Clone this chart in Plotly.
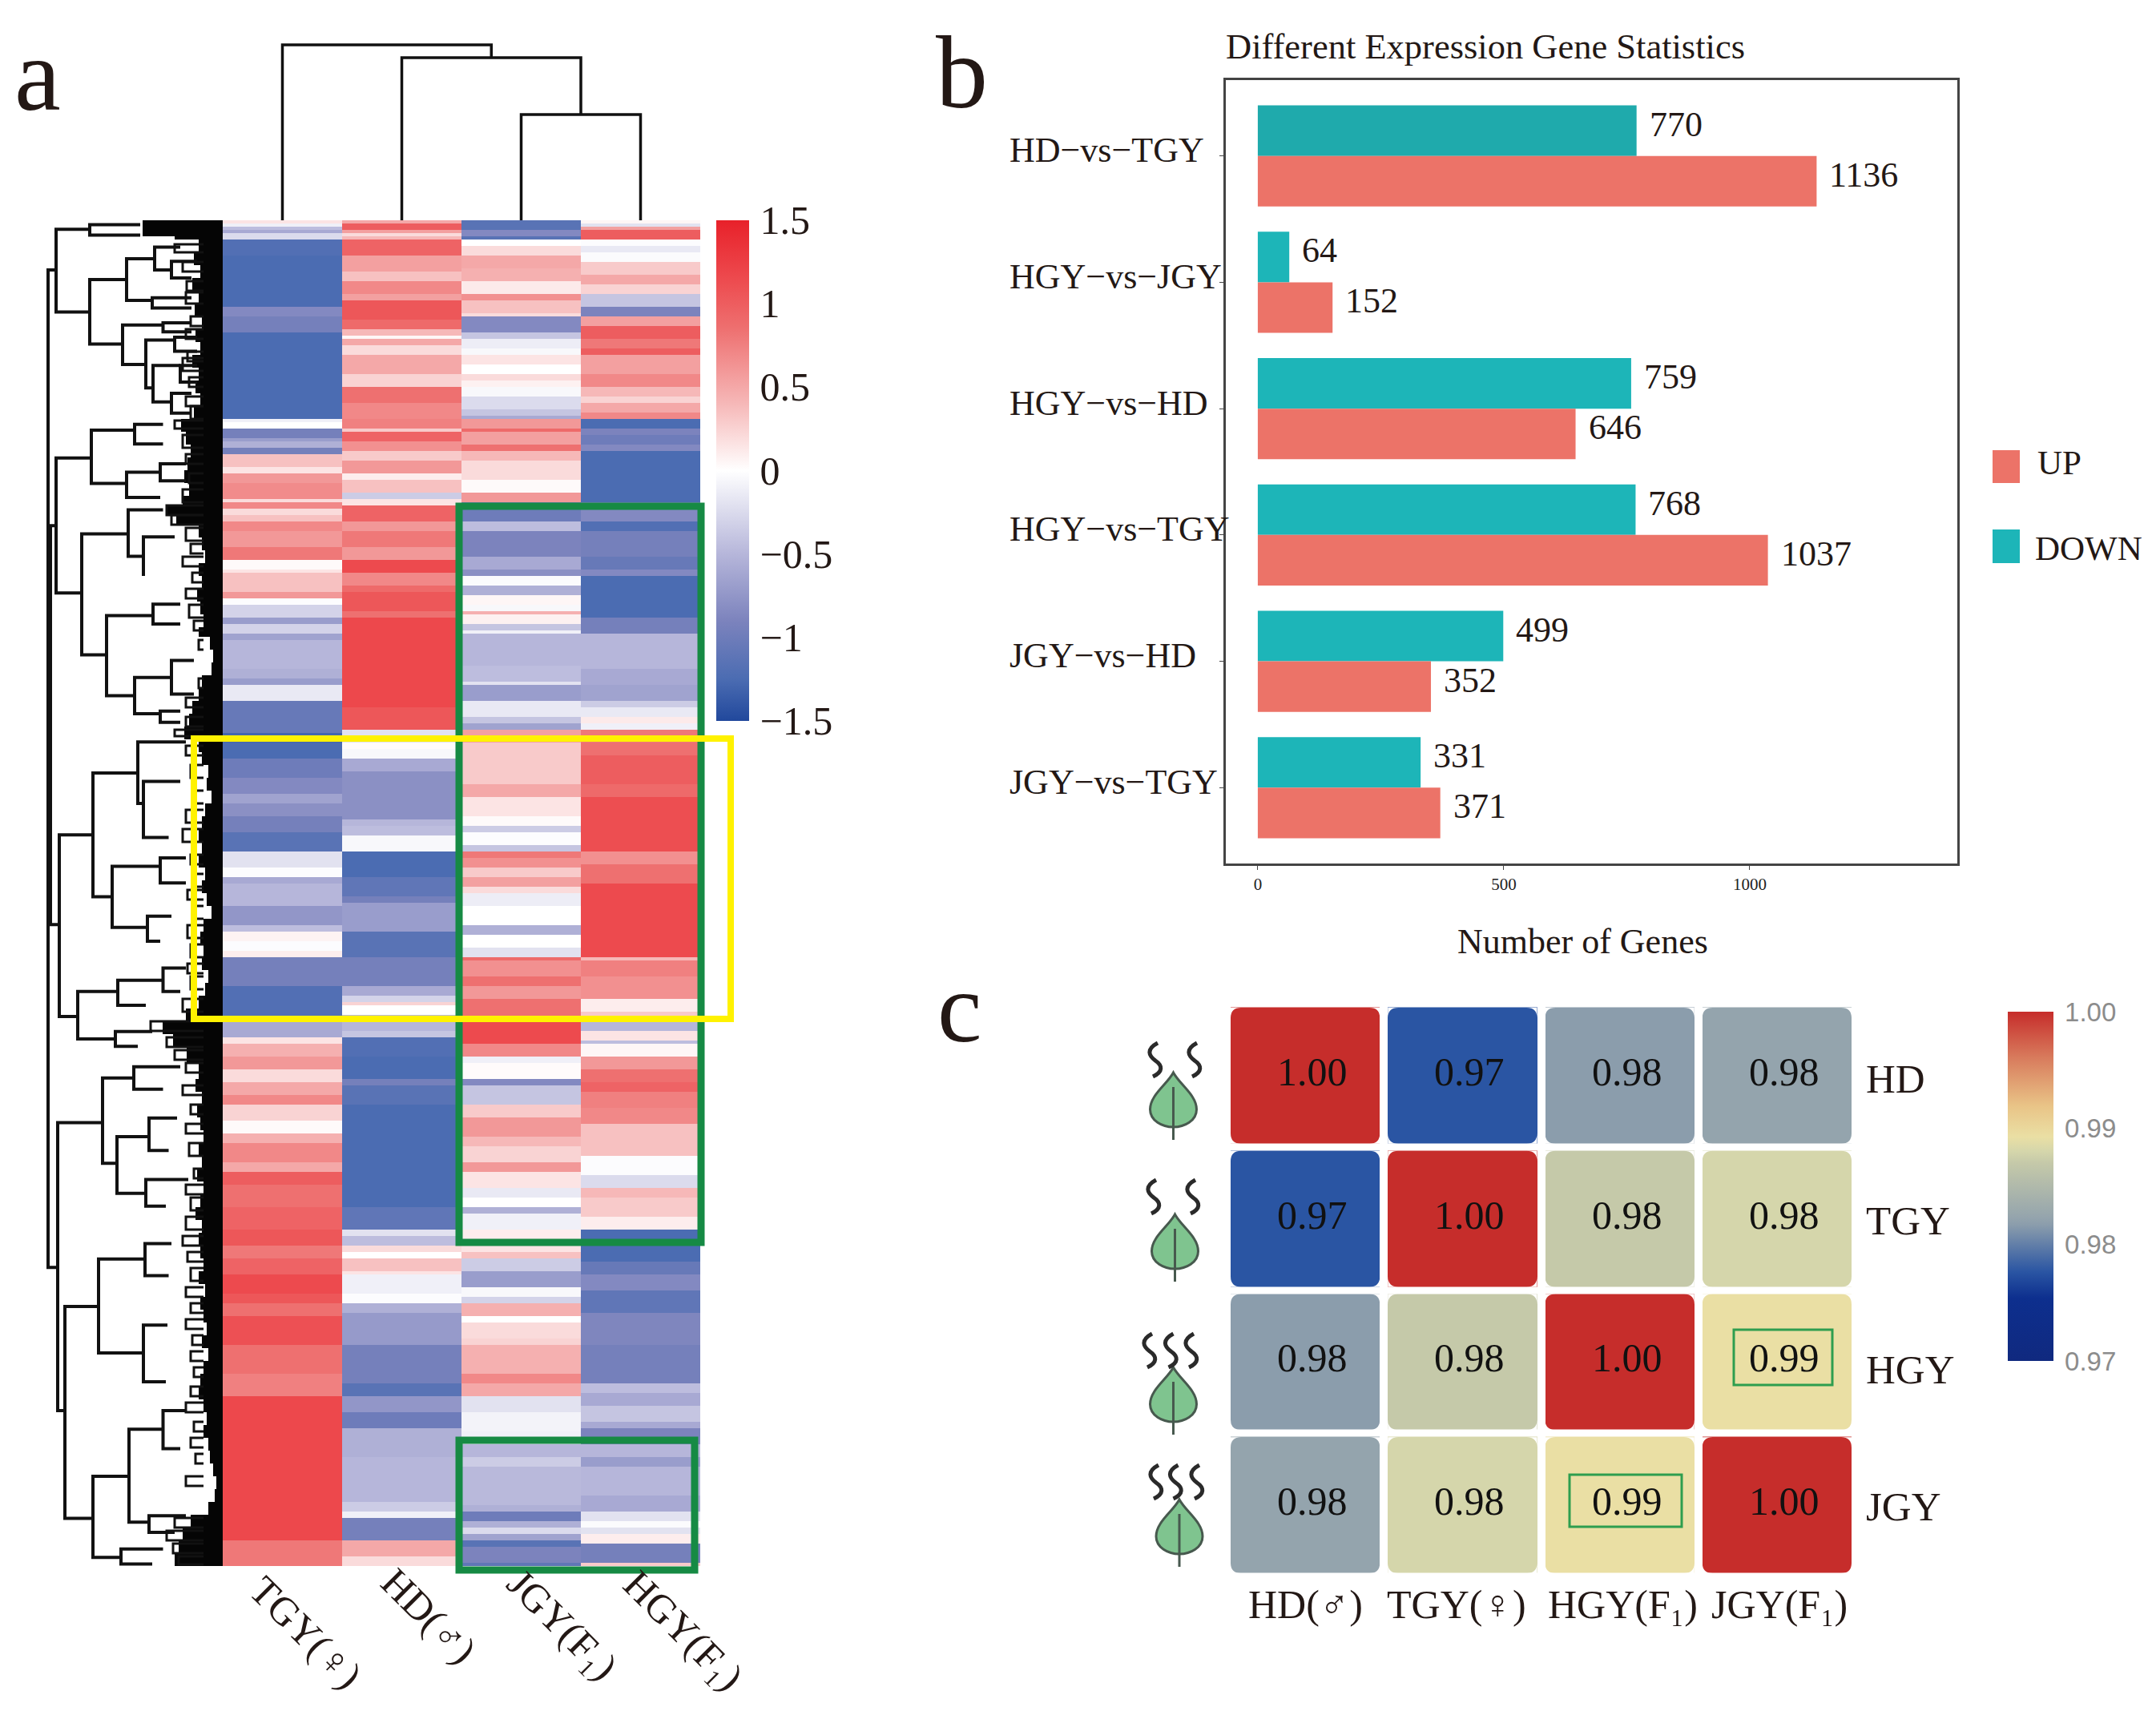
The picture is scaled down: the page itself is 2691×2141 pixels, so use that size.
import numpy as np
import plotly.graph_objects as go

W, H = 2691, 2141
SERIF = "Liberation Serif"

# ---------- panel a: expression heatmap (runs of end_row, z-score) ----------
SAMPLES_A = ["TGY(♀)", "HD(♂)", "JGY(F₁)", "HGY(F₁)"]
N_ROWS = 420
TGY_RUNS = [(1,.15),(2,-.1),(3,-.45),(4,-.6),(6,-.25),(11,-1.2),(27,-1.25),(30,-.85),(35,-.95),(62,-1.25),(63,-.1),(65,0),(68,-.95),(69,-.7),(71,-.55),(73,-.95),
 (77,.35),(79,.15),(82,.6),(87,.68),(88,.2),(90,.7),(92,.2),(94,.35),(97,.7),(102,.6),(106,.8),(109,.03),(110,.15),(116,.35),(118,.6),(120,-.02),(124,-.3),(126,-.7),(129,-.3),(131,-.65),
 (140,-.5),(143,-.55),(145,-.7),(150,-.15),(160,-1.05),(163,-1.3),(168,-1.25),(174,-1.0),(179,-.85),(182,-.65),(186,-.8),(191,-.95),(197,-1.15),(202,-.2),(205,-.02),(207,-.6),(214,-.5),
 (220,-.75),(222,-.45),(225,.07),(228,-.02),(230,.1),(239,-.95),(248,-1.2),(250,-1.2),(255,-.6),(257,.15),(261,.45),(265,.6),(269,.2),(273,.5),(276,.7),(281,.25),(285,.03),(288,.45),
 (294,.7),(297,.5),(301,1.0),(308,.85),(315,.95),(320,1.05),(324,.8),(329,.95),(335,1.15),(338,1.05),(342,.85),(351,1.1),(360,.85),(367,.75),(412,1.17),(420,.8)]
HD_RUNS = [(1,.5),(3,1.0),(4,.55),(5,.2),(6,.4),(11,.95),(16,.55),(19,.35),(23,.7),(25,.55),(31,1.05),(34,.9),(36,.4),(37,.05),(39,.5),(42,.2),(48,.5),(52,.25),(57,.85),(62,.7),(65,.75),(66,.3),
 (69,.95),(72,.65),(75,.3),(79,.6),(81,.1),(85,.35),(87,-.35),(89,.15),(94,.95),(97,.6),(102,.8),(106,.6),(110,1.15),(114,.7),(116,.9),(122,1.05),(124,.85),(152,1.17),(159,1.05),(163,-.2),
 (165,.02),(168,-.05),(172,-.6),(187,-.8),(189,-.5),(192,-.45),(197,-.05),(205,-1.25),(211,-1.1),(213,-.95),(222,-.7),(230,-1.15),(239,-.95),(242,-.6),(244,-.3),(245,.25),(248,0),(253,-.5),
 (255,-.4),(261,-1.2),(268,-1.25),(270,-.95),(276,-1.15),(308,-1.25),(315,-1.1),(317,-.2),(320,-.45),(322,.2),(324,0),(328,.35),(329,.15),(335,-.1),(338,-.02),(341,-.55),(351,-.72),(363,-.95),
 (367,-1.15),(372,-.75),(377,-1.0),(386,-.55),(400,-.5),(403,-.35),(405,-.1),(412,-.95),(417,.5),(420,.2)]
JGY_RUNS = [(3,-1.15),(5,-.85),(6,-1.15),(8,0),(11,.2),(15,.5),(19,.45),(23,.12),(25,.65),(29,.35),(30,.2),(35,-.85),(37,-.4),(40,-.12),(42,-.05),(45,.15),(48,0),(50,.2),(52,.08),(55,-.05),(59,-.25),
 (61,-.4),(62,-.6),(65,.6),(66,.9),(70,.55),(72,.85),(75,.4),(81,.2),(85,.03),(88,.6),(94,-1.0),(97,-.45),(105,-.9),(109,-.6),(111,-.8),(114,-.03),(117,-.55),(120,.05),(122,-.05),(123,.45),
 (126,.08),(128,-.4),(129,-.1),(139,-.5),(144,-.45),(145,-.2),(150,-.7),(155,-.15),(157,-.4),(159,-.65),(163,.55),(176,.3),(180,.5),(186,.15),(189,.03),(191,-.35),(195,-.02),(197,-.4),(199,.8),
 (202,.65),(205,.3),(208,.55),(210,.2),(214,-.12),(220,0),(223,-.55),(227,0),(230,-.2),(231,.9),(236,.65),(239,.85),(243,.6),(250,.85),(257,1.15),(261,.7),(263,-.1),(268,.02),(270,-.85),(276,-.4),
 (280,.3),(286,.6),(289,.4),(294,.25),(297,.6),(302,.15),(305,-.15),(308,0),(310,-.55),(315,-.1),(318,.1),(322,.15),(324,.35),(328,-.35),(333,-.7),(336,-.05),(338,-.3),(342,.45),(344,0),(349,.2),
 (351,.25),(360,.45),(363,.7),(367,.5),(372,-.2),(378,-.08),(382,-.1),(386,-.5),(389,-.35),(401,-.48),(403,-.55),(406,-1.0),(408,-.55),(410,-.25),(412,-.65),(414,-1.15),(419,-.9),(420,-1.1)]
HGY_RUNS = [(1,.05),(2,-.2),(3,.55),(6,1.0),(8,-.02),(10,-.15),(13,-.03),(17,.3),(20,.5),(23,.25),(27,-.4),(30,-.9),(33,.55),(37,1.0),(40,.8),(42,1.0),(48,.55),(52,.7),(55,.4),(57,.25),(60,.5),
 (62,.7),(65,-1.25),(67,-.9),(70,-1.0),(72,-.85),(88,-1.25),(94,-.85),(97,-1.2),(105,-.95),(109,-1.05),(111,-.85),(124,-1.25),(129,-.95),(140,-.5),(145,-.6),(150,-.65),(152,-.35),(155,-.15),
 (157,.12),(159,-.1),(163,.8),(167,.85),(176,1.0),(180,.9),(197,1.12),(201,.65),(207,.85),(230,1.15),(231,.4),(236,.75),(243,.65),(247,.1),(250,.3),(253,-.5),(256,.15),(257,-.45),(261,.05),
 (265,.6),(269,.85),(272,.95),(277,.75),(282,.7),(288,.35),(292,.35),(298,-.02),(302,-.25),(305,.4),(311,.3),(315,.1),(325,-1.25),(329,-1.05),(334,-.85),(341,-1.1),(351,-.88),(363,-.95),(366,-.45),
 (370,-.6),(375,-.4),(377,-.6),(382,-.9),(386,-.5),(389,-.7),(398,-.5),(403,-.6),(406,-.2),(408,-.03),(410,-.2),(413,.1),(419,-.95),(420,.3)]

# merges of the left dendrogram: height, top row, bottom row, top child height, bottom child height
ROW_MERGES = [(218,15.5,326.8,208,206),(218,157.5,157.5,215,215),(215,95.3,219.8,208,204),
 (208,2.8,28.6,166,166),(166,1.4,4.6,103,103),(166,18.5,38.6,120,125),(120,12,25,85,88),(85,8.4,15.5,53,64),(64,12.8,18,32,39),(88,24.2,27.4,39,39),
 (125,32.7,45,74.5,96),(74.5,32,34.8,39,39),(96,37.4,52.3,60,87),(60,36.5,40.9,32,32),(87,45.3,56.7,53,64),(53,45.3,50.5,32,32),(64,54,60.2,39,39),
 (208,74.2,116.3,164,176),(164,65.5,82.1,110,120),(110,63.7,69.8,74.5,74.5),(120,78.6,86.5,78,78),(78,76,81.3,46,46),(176,97.9,135.6,118,145),(118,90.4,104.9,74.5,99),
 (99,98.8,111,60,99),(145,123.4,148.4,87,110),(87,119.8,126,53,53),(110,142.7,154,64,78),(64,137.4,147.9,36,36),(78,153.2,156.7,53,53),
 (204,191.8,248.5,162,181),(162,172.5,211.1,106,138),(106,162.8,182,46,99),(99,175.1,192.6,53,67.5),(138,201.6,220.7,78,94),(78,199,206.8,46,46),(94,217.2,225,64,78),
 (181,240.7,255.5,131,134),(131,237.2,245,74.5,96),(74.5,233.4,240.7,46,53),(134,253.2,257.8,88,106),
 (206,281.6,371.5,150,197),(150,267.7,294.3,111,132),(111,264.2,271.2,53,74.5),(132,286,303.7,92,96),(92,280.2,290.3,57,67.5),(96,299.4,307.7,43,71),
 (197,339,405.1,155,162),(155,324.2,353.5,97,99),(97,319.4,329.4,64,67.5),(99,344.8,362.5,69,71),(162,392,417.3,117,127),(117,377.3,406.3,74.5,92),(74.5,371.5,383.4,46,53),(92,404.3,409.5,46,60),(127,414.7,419.4,74.5,88)]
# small merges close to the leaves: height, top row, bottom row
FINE_MERGES = [(60,7.5,10),(50,13,16),(45,19,22),(46,22.5,26),(40,30,33),(46,34,37),(44,41,44),(50,43,47),(42,49,52),(46,55,58),(40,58,62),
 (60,62.5,65),(50,67,71),(46,73,76),(42,79,82),(50,84,88),(70,89,92),(64,92,95),(46,96,100),(40,101,104),(50,105,108),(38,110,113),(46,115,118),(42,120,124),(36,125,128),
 (30,131,134),(30,143,146),(46,149,152),(46,155,158),(60,159,161),(46,164,167),(40,170,174),(34,178,182),(46,184,188),(50,190,194),(40,198,201),(36,204,208),(44,209,212),
 (36,214,218),(44,220,224),(40,226,230),(44,232,235),(40,236,240),(50,243,247),(90,250,253),(70,255,258),(60,259,262),(46,263,266),(50,270,273),(40,276,279),(46,282,285),
 (42,288,292),(36,296,299),(46,301,304),(40,305,309),(46,311,315),(50,317,320),(44,322,325),(40,327,331),(46,333,336),(40,338,341),(46,343,346),(38,348,351),(40,353,356),
 (36,358,361),(40,364,367),(46,369,372),(36,375,378),(40,380,383),(34,385,388),(46,392,395),(60,405,408),(70,409,412),(62,413,416),(55,417,419.5)]
# depth of the dense leaf fringe: end row, height
LEAF_RUNS = [(5,100),(6,60),(10,30),(14,36),(18,28),(22,38),(26,30),(30,35),(34,26),(38,34),(42,28),(46,38),(50,30),(54,34),(58,28),(62,36),(66,52),(70,46),(74,40),(78,44),(82,48),(86,42),(89,50),(92,70),(95,58),
 (99,30),(103,26),(107,22),(111,30),(115,26),(119,32),(123,28),(127,24),(130,30),(134,16),(138,12),(142,14),(146,26),(150,30),(154,38),(158,42),(162,48),(166,30),(170,26),(174,18),(178,20),(182,14),(186,22),(190,26),
 (194,30),(198,26),(202,30),(206,22),(210,26),(214,20),(218,14),(222,24),(226,28),(230,24),(234,26),(238,18),(242,22),(246,30),(250,46),(254,75),(258,62),(263,45),(268,30),(272,34),(276,26),(280,32),(284,28),(288,24),
 (292,30),(296,26),(300,32),(304,24),(308,28),(312,34),(316,26),(320,30),(324,28),(328,24),(332,30),(336,22),(340,28),(344,24),(348,20),(352,26),(356,18),(360,24),(364,28),(368,30),(372,24),(376,20),(380,24),(384,18),
 (388,16),(392,12),(396,8),(400,10),(404,18),(408,40),(412,50),(416,55),(420,60)]
# merges of the top dendrogram: height, left position, right position, left child height, right child height
COL_MERGES = [(132,2,3,0,0),(203,1,2.5,0,132),(219,0,1.75,0,203)]

# ---------- panel b: DEG counts ----------
COMPARISONS = ["HD−vs−TGY", "HGY−vs−JGY", "HGY−vs−HD", "HGY−vs−TGY", "JGY−vs−HD", "JGY−vs−TGY"]
DOWN_GENES = [770, 64, 759, 768, 499, 331]
UP_GENES = [1136, 152, 646, 1037, 352, 371]

# ---------- panel c: correlation ----------
SAMPLES_C = ["HD", "TGY", "HGY", "JGY"]
COLS_C = ["HD(♂)", "TGY(♀)", "HGY(F₁)", "JGY(F₁)"]
CORR_COLOR = [[1.0, .97765, .9817, .9823], [.97765, 1.0, .987, .988], [.9817, .987, 1.0, .9893], [.9823, .988, .9893, 1.0]]
CORR_TEXT = [["1.00", "0.97", "0.98", "0.98"], ["0.97", "1.00", "0.98", "0.98"], ["0.98", "0.98", "1.00", "0.99"], ["0.98", "0.98", "0.99", "1.00"]]


def fx(px):
    return px / W


def fy(py):
    return 1 - py / H


def expand(runs):
    out, start = [], 0
    for end, val in runs:
        out.extend([val] * (end - start))
        start = end
    return out


SCALE_A = [[0, "#21489c"], [.0833, "#4b6cb2"], [.2, "#7c83bd"], [.3333, "#b6b6da"], [.5, "#ffffff"], [.6333, "#f6b8b8"], [.7833, "#ee7070"], [.8833, "#ed4a4e"], [1, "#e8212a"]]
SCALE_C = [[0, "#10297f"], [.18, "#0d2f8e"], [.255, "#2a55a3"], [.39, "#8b9dac"], [.41, "#94a4ad"], [.567, "#c5c9a9"], [.6, "#d5d6ab"], [.642, "#eadfa4"], [.73, "#e9c487"], [.87, "#d87a5c"], [1, "#c62d2b"]]

fig = go.Figure()

# heatmap a
z_a = np.array([expand(TGY_RUNS), expand(HD_RUNS), expand(JGY_RUNS), expand(HGY_RUNS)]).T
fig.add_trace(go.Heatmap(z=z_a, x=[0, 1, 2, 3], y=np.arange(N_ROWS) + .5, colorscale=SCALE_A, zmin=-1.5, zmax=1.5,
    hoverinfo="skip", xaxis="x", yaxis="y",
    colorbar=dict(x=fx(894), xanchor="left", xpad=0, ypad=0, y=fy(587), yanchor="middle", len=625 / H, lenmode="fraction",
                  thickness=41, outlinewidth=0, tickvals=[-1.5, -1, -.5, 0, .5, 1, 1.5],
                  ticktext=["−1.5", "−1", "−0.5", "0", "0.5", "1", "1.5"], ticks="outside", ticklen=4, tickcolor="rgba(0,0,0,0)",
                  tickfont=dict(family=SERIF, size=50, color="#231815"))))

# top dendrogram
for h, a, b, ha, hb in COL_MERGES:
    fig.add_trace(go.Scatter(x=[a, a, b, b], y=[ha, h, h, hb], mode="lines", line=dict(color="#111", width=3.5), xaxis="x2", yaxis="y2", hoverinfo="skip"))

# leaf fringe
ends = np.array([e for e, _ in LEAF_RUNS], float)
starts = np.r_[0, ends[:-1]]
fig.add_trace(go.Bar(x=[d for _, d in LEAF_RUNS], y=(ends + starts) / 2, width=ends - starts, orientation="h", marker=dict(color="#050505", line=dict(width=0)),
                     xaxis="x3", yaxis="y3", hoverinfo="skip"))
# left dendrogram
xs, ys = [], []
for h, rt, rb, ct, cb in ROW_MERGES:
    xs += [ct, h, h, cb, None]
    ys += [rt, rt, rb, rb, None]
fig.add_trace(go.Scatter(x=xs, y=ys, mode="lines", line=dict(color="#111", width=4), xaxis="x3", yaxis="y3", hoverinfo="skip"))
fxs, fys = [], []
for h, rt, rb in FINE_MERGES:
    fxs += [24, h, h, 24, None]
    fys += [rt, rt, rb, rb, None]
fig.add_trace(go.Scatter(x=fxs, y=fys, mode="lines", line=dict(color="#111", width=3), xaxis="x3", yaxis="y3", hoverinfo="skip"))

# bars
positions = list(range(len(COMPARISONS)))
fig.add_trace(go.Bar(y=positions, x=DOWN_GENES, name="DOWN", orientation="h", xaxis="x4", yaxis="y4", width=.4, offset=-.4,
                     marker=dict(color=["#1faaac"] + ["#1db5b8"] * 5, line=dict(width=0)), hoverinfo="skip"))
fig.add_trace(go.Bar(y=positions, x=UP_GENES, name="UP", orientation="h", xaxis="x4", yaxis="y4", width=.4, offset=0,
                     marker=dict(color="#ec7368", line=dict(width=0)), hoverinfo="skip"))

# correlation
fig.add_trace(go.Heatmap(z=CORR_COLOR,
    x=[0, 1, 2, 3], y=[0, 1, 2, 3], xgap=10, ygap=9, colorscale=SCALE_C, zmin=.97, zmax=1.0, hoverinfo="skip", xaxis="x5", yaxis="y5",
    colorbar=dict(x=fx(2506), xanchor="left", xpad=0, ypad=0, y=fy(1481), yanchor="middle", len=436 / H, lenmode="fraction", thickness=57, outlinewidth=0,
                  tickvals=[.97, .98, .99, 1.0], ticktext=["0.97", "0.98", "0.99", "1.00"], ticks="outside", ticklen=8, tickcolor="rgba(0,0,0,0)",
                  tickfont=dict(family="Liberation Sans", size=33, color="#8c8c8c"))))


def hidden(dom, rng):
    return dict(domain=dom, range=rng, visible=False, fixedrange=True)


layout = dict(width=W, height=H, margin=dict(l=0, r=0, t=0, b=0, pad=0), paper_bgcolor="white", plot_bgcolor="rgba(0,0,0,0)", showlegend=False, barmode="overlay", autosize=False)
layout["xaxis"] = hidden([fx(278), fx(874)], [-.5, 3.5])
layout["yaxis"] = hidden([fy(1955), fy(275)], [N_ROWS, 0])
layout["xaxis2"] = hidden([fx(278), fx(874)], [-.5, 3.5])
layout["yaxis2"] = hidden([fy(275), fy(50)], [0, 225])
layout["xaxis3"] = hidden([fx(0), fx(278)], [278, 0])
layout["yaxis3"] = hidden([fy(1955), fy(275)], [N_ROWS, 0])
layout["xaxis4"] = dict(domain=[fx(1530), fx(2443)], range=[-65, 1422], tickvals=[0, 500, 1000], ticks="outside", ticklen=5, tickcolor="#444",
                        tickfont=dict(family=SERIF, size=21, color="#222"), showgrid=False, zeroline=False, showline=True, mirror=True, linecolor="#444", linewidth=3,
                        anchor="y4", fixedrange=True)
layout["yaxis4"] = dict(domain=[fy(1078), fy(100)], range=[5.6, -.6], tickvals=positions, showticklabels=False, ticks="outside", ticklen=5, tickcolor="#444",
                        showgrid=False, zeroline=False, showline=True, mirror=True, linecolor="#444", linewidth=3, anchor="x4", fixedrange=True)
layout["xaxis5"] = dict(domain=[fx(1531), fx(2316)], range=[-.5, 3.5], showticklabels=False, ticks="", showgrid=False, zeroline=False, showline=False, anchor="y5", fixedrange=True)
layout["yaxis5"] = dict(domain=[fy(1968.5), fy(1253.5)], range=[3.5, -.5], showticklabels=False, ticks="", showgrid=False, zeroline=False, showline=False, anchor="x5", fixedrange=True)

ann = []


def text(px, py, s, size, anchor="center", angle=0, color="#231815"):
    ann.append(dict(x=fx(px), y=fy(py), xref="paper", yref="paper", text=s, showarrow=False, xanchor=anchor, yanchor="middle", textangle=angle,
                    font=dict(family=SERIF, size=size, color=color)))


text(47, 93, "a", 130)
text(1200, 90, "b", 130)
text(1197, 1258, "c", 125)
for name, cx, cy in zip(SAMPLES_A, [382, 535, 702, 853], [2038, 2017, 2028, 2035]):
    text(cx, cy, name, 50, angle=45)
text(1528, 58, "Different Expression Gene Statistics", 44.5, anchor="left")
text(1975, 1175, "Number of Genes", 44, color="#231815")
text(2541, 577, "UP", 43, anchor="left")
text(2538, 685, "DOWN", 43, anchor="left")
for i, name in enumerate(COMPARISONS):
    ann.append(dict(x=fx(1258), xref="paper", y=i, yref="y4", text=name, showarrow=False, xanchor="left", yanchor="middle", yshift=7,
                    font=dict(family=SERIF, size=44, color="#231815")))
    for val, off in ((DOWN_GENES[i], -.2), (UP_GENES[i], .2)):
        ann.append(dict(x=val, xref="x4", y=i + off, yref="y4", text=str(val), showarrow=False, xanchor="left", yanchor="middle", xshift=14, yshift=8,
                        font=dict(family=SERIF, size=44, color="#231815")))
for r, row in enumerate(CORR_TEXT):
    for c, label in enumerate(row):
        ann.append(dict(x=c, xref="x5", y=r, yref="y5", text=label, showarrow=False, xanchor="center", yanchor="middle", xshift=9, yshift=5,
                        font=dict(family=SERIF, size=50, color="#111")))
for name, cy in zip(SAMPLES_C, [1347, 1524, 1710, 1881]):
    text(2327, cy, name, 51, anchor="left")
for name, cx in zip(COLS_C, [1629, 1818, 2025, 2221]):
    text(cx, 2003, name, 50)
layout["annotations"] = ann

shapes = []


def box(x0, y0, x1, y1, color, w):
    shapes.append(dict(type="rect", xref="paper", yref="paper", x0=fx(x0), y0=fy(y0), x1=fx(x1), y1=fy(y1), line=dict(color=color, width=w), fillcolor="rgba(0,0,0,0)", layer="above"))


def swatch(x0, y0, x1, y1, color):
    shapes.append(dict(type="rect", xref="paper", yref="paper", x0=fx(x0), y0=fy(y0), x1=fx(x1), y1=fy(y1), line=dict(width=0), fillcolor=color, layer="above"))


box(573, 632, 875, 1551, "#168a44", 9)
box(573, 1798, 867, 1960, "#168a44", 9)
box(242, 922, 912, 1272, "#fff200", 8)
box(2164, 1660, 2287, 1729, "#2e9e4f", 3)
box(1959, 1841, 2099, 1906, "#2e9e4f", 3)
swatch(2487, 562, 2521, 603, "#ec7368")
swatch(2487, 661, 2521, 703, "#1db5b8")

# rounded tile corners for panel c
rx, ry = 13 / 196.25, 13 / 178.75
gx, gy = 5 / 196.25, 4.5 / 178.75
corner = ""
for i in range(4):
    for j in range(4):
        for sx in (-1, 1):
            for sy in (-1, 1):
                cx = i + sx * (.5 - gx)
                cy = j + sy * (.5 - gy)
                corner += f"M{cx},{cy} L{cx - sx * rx},{cy} Q{cx},{cy} {cx},{cy - sy * ry} Z "
shapes.append(dict(type="path", xref="x5", yref="y5", path=corner, fillcolor="white", line=dict(width=0), layer="above"))


def p(px, py):
    return f"{fx(px)},{fy(py)}"


# leaf-and-steam icons: leaf centre, leaf tip, steam top, steam x positions
ICONS = [(1464.5, 1339, 1302, [1442, 1491]), (1466.5, 1516, 1473, [1440, 1489]),
         (1464.5, 1707, 1665, [1435, 1461.5, 1487]), (1472, 1872, 1829, [1443, 1467.5, 1494])]
for c, t, st, steam in ICONS:
    d = (f"M{p(c, t)} C{p(c + 8, t + 15)} {p(c + 29, t + 28)} {p(c + 29, t + 46)} C{p(c + 29, t + 60)} {p(c + 14, t + 68)} {p(c, t + 68)} "
         f"C{p(c - 14, t + 68)} {p(c - 29, t + 60)} {p(c - 29, t + 46)} C{p(c - 29, t + 28)} {p(c - 8, t + 15)} {p(c, t)} Z")
    shapes.append(dict(type="path", xref="paper", yref="paper", path=d, fillcolor="#7fc48f", line=dict(color="#47594e", width=3), layer="above"))
    shapes.append(dict(type="line", xref="paper", yref="paper", x0=fx(c), x1=fx(c), y0=fy(t + 18), y1=fy(t + 84), line=dict(color="#47594e", width=3), layer="above"))
    for sx in steam:
        d = (f"M{p(sx + 3, st)} C{p(sx - 12, st + 8)} {p(sx - 8, st + 16)} {p(sx, st + 22)} C{p(sx + 9, st + 28)} {p(sx + 10, st + 36)} {p(sx - 3, st + 42)}")
        shapes.append(dict(type="path", xref="paper", yref="paper", path=d, line=dict(color="#2a2a2a", width=5), layer="above"))
layout["shapes"] = shapes

fig.update_layout(**layout)
fig.write_html("out.html", config={"displayModeBar": False}, post_script="document.body.style.margin='0';")
